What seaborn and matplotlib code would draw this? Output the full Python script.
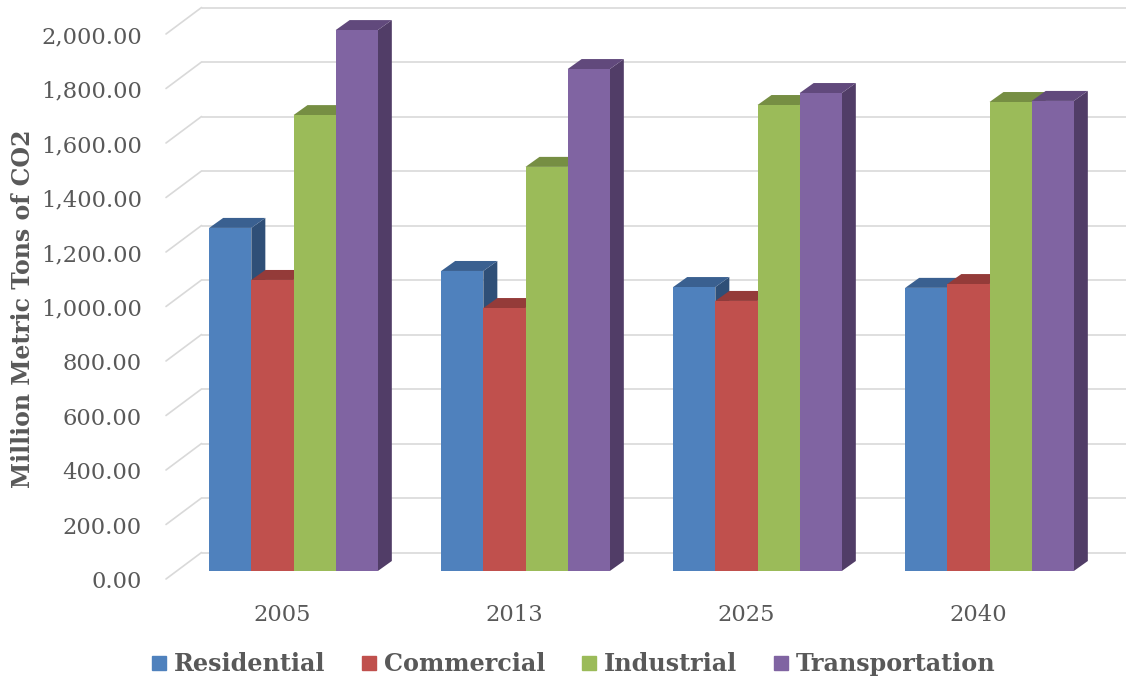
import numpy as np
import pandas as pd
import seaborn as sns
import matplotlib
matplotlib.use("Agg")
import matplotlib.pyplot as plt
from matplotlib.patches import Polygon
from matplotlib.transforms import Affine2D
from matplotlib.lines import Line2D

years = ["2005", "2013", "2025", "2040"]
series = ["Residential", "Commercial", "Industrial", "Transportation"]
residential = [1259, 1101, 1042, 1039]
commercial = [1068, 965, 991, 1053]
industrial = [1673, 1483, 1710, 1721]
transportation = [1985, 1842, 1754, 1725]
face_colors = ["#4F81BD", "#C0504D", "#9BBB59", "#8064A2"]
top_colors = ["#3A6090", "#943B39", "#768E43", "#61497C"]
side_colors = ["#2F4F77", "#7A312F", "#62763A", "#513D67"]
yticks = list(range(0, 2001, 200))

W, H = 1126, 676
sns.set_theme(style="white")
plt.rcParams["font.family"] = ["DejaVu Serif"]
text_color = "#595959"

df = pd.DataFrame({"Year": years, "Residential": residential, "Commercial": commercial,
                   "Industrial": industrial, "Transportation": transportation}).melt(
    "Year", var_name="Sector", value_name="CO2")

fig = plt.figure(figsize=(W / 100, H / 100), dpi=100, facecolor="white")
# axes: x -0.5..3.5 -> px 177.5..1105.5; y 0..2000 -> px 571..26
ax = fig.add_axes([177.5 / W, 1 - 571 / H, 928 / W, 545 / H])
sns.barplot(data=df, x="Year", y="CO2", hue="Sector", hue_order=series, order=years,
            palette=face_colors, width=0.727, gap=0, saturation=1, legend=False,
            linewidth=0, ax=ax, zorder=5)
ax.set_xlim(-0.5, 3.5)
ax.set_ylim(0, 2000)
for s in ax.spines.values():
    s.set_visible(False)
ax.patch.set_alpha(0)


def shift(dx, dy):
    return ax.transData + Affine2D().translate(dx, dy)


grid_c = "#D9D9D9"
BX, BY = 24, 18.5  # back wall offset
FX, FY = -11.5, -8  # front edge offset
for v in yticks:
    ax.plot([-0.5, 3.5 + 20 / 232], [v, v], transform=shift(BX, BY), color=grid_c, lw=1.2,
            clip_on=False, zorder=1)
    p0 = ax.transData.transform((-0.5, v))
    ax.add_line(Line2D([p0[0] + FX, p0[0] + BX], [p0[1] + FY, p0[1] + BY], transform=None,
                       color=grid_c, lw=1.2, zorder=1, clip_on=False))

# 3D extrusion of each bar: offset in pixels
DX, DY = 14, 10
for k, cont in enumerate(ax.containers):
    for b in cont:
        x0, x1, h = b.get_x(), b.get_x() + b.get_width(), b.get_height()
        (px0, py0), (px1, py1) = ax.transData.transform([(x0, 0), (x1, h)])
        top = [(px0, py1), (px1, py1), (px1 + DX, py1 + DY), (px0 + DX, py1 + DY)]
        side = [(px1, py0), (px1 + DX, py0 + DY), (px1 + DX, py1 + DY), (px1, py1)]
        zo = 5 + k * 0.1
        ax.add_patch(Polygon(side, closed=True, transform=None, fc=side_colors[k], ec="none",
                             zorder=zo, clip_on=False))
        ax.add_patch(Polygon(top, closed=True, transform=None, fc=top_colors[k], ec="none",
                             zorder=zo, clip_on=False))
        b.set_zorder(zo + 0.05)

ax.set_yticks(yticks)
ax.set_yticklabels([f"{v:,.2f}" for v in yticks], color=text_color, fontsize=16.3)
ax.tick_params(axis="y", length=0, pad=0)
for t in ax.get_yticklabels():
    t.set_transform(ax.get_yaxis_transform() + Affine2D().translate(-35.5, -8.5))
    t.set_ha("right")
ax.set_xticks(range(4))
ax.set_xticklabels(years, color=text_color, fontsize=16.3)
ax.tick_params(axis="x", length=0, pad=0)
for t in ax.get_xticklabels():
    t.set_transform(ax.get_xaxis_transform() + Affine2D().translate(-11.5, -44))
    t.set_va("center")
ax.set_xlabel("")
ax.set_ylabel("")
fig.text(23 / W, 1 - 309 / H, "Million Metric Tons of CO2", rotation=90, va="center", ha="center",
         fontsize=17, fontweight="bold", color=text_color)

handles = [Line2D([], [], ls="none", marker="s", ms=10, color=c) for c in face_colors]
leg = fig.legend(handles, series, loc="center", bbox_to_anchor=(571.5 / W, 1 - 664 / H), ncol=4,
                 frameon=False, prop={"size": 17.2, "weight": "bold"}, labelcolor=text_color,
                 handletextpad=0.125, columnspacing=1.33, handlelength=1.0,
                 borderpad=0, borderaxespad=0)

fig.savefig("out.png", dpi=100)
